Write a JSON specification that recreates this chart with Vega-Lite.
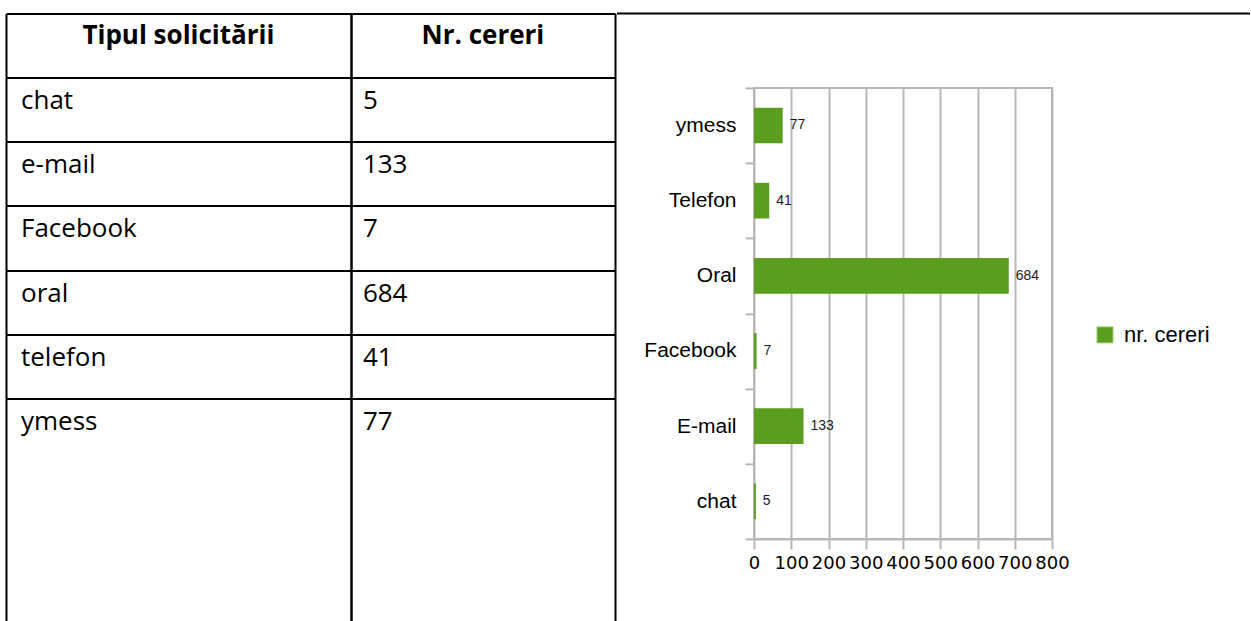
{
  "$schema": "https://vega.github.io/schema/vega-lite/v6.json",
  "padding": {"left": 6, "top": 11.6, "right": 0, "bottom": 0},
  "background": "white",
  "config": {"view": {"stroke": null}},
  "datasets": {
    "tabel": [
      {"tip": "chat", "nr": 5},
      {"tip": "e-mail", "nr": 133},
      {"tip": "Facebook", "nr": 7},
      {"tip": "oral", "nr": 684},
      {"tip": "telefon", "nr": 41},
      {"tip": "ymess", "nr": 77}
    ],
    "grafic": [
      {"categorie": "chat", "cereri": 5},
      {"categorie": "E-mail", "cereri": 133},
      {"categorie": "Facebook", "cereri": 7},
      {"categorie": "Oral", "cereri": 684},
      {"categorie": "Telefon", "cereri": 41},
      {"categorie": "ymess", "cereri": 77}
    ]
  },
  "spacing": 0,
  "resolve": {"scale": {"color": "independent"}, "legend": {"color": "independent"}},
  "hconcat": [
    {
      "width": 609,
      "height": 608,
      "resolve": {"scale": {"x": "independent"}},
      "layer": [
        {
          "layer": [
            {
              "data": {"values": [{"titlu": "Tipul solicitării"}]},
              "mark": {"type": "text", "font": "Open Sans", "fontSize": 26, "fontWeight": "bold", "align": "center", "baseline": "alphabetic", "color": "#000000"},
              "encoding": {
                "x": {"field": "titlu", "type": "nominal", "bandPosition": 0.5,
                  "scale": {"type": "band", "domain": ["Tipul solicitării"], "paddingInner": 0, "paddingOuter": 0.383, "align": 0},
                  "axis": {"grid": true, "gridColor": "#000000", "gridWidth": 2, "tickBand": "extent", "labels": false, "ticks": false, "domain": false, "title": null, "offset": 0}},
                "y": {"datum": "antet", "type": "nominal", "bandPosition": 0.48,
                  "scale": {"type": "band", "domain": ["antet", "chat", "e-mail", "Facebook", "oral", "telefon", "ymess", "rest"], "paddingInner": 0, "paddingOuter": 0.728, "align": 0},
                  "axis": {"values": ["antet", "chat", "e-mail", "Facebook", "oral", "telefon", "ymess"], "grid": true, "gridColor": "#000000", "gridWidth": 2, "bandPosition": 0, "labels": false, "ticks": false, "domain": false, "title": null}},
                "text": {"field": "titlu"}
              }
            },
            {
              "data": {"name": "tabel"},
              "mark": {"type": "text", "font": "Open Sans", "fontSize": 26, "align": "left", "baseline": "alphabetic", "dx": 15, "color": "#000000"},
              "encoding": {
                "x": {"datum": "Tipul solicitării", "type": "nominal", "bandPosition": 0,
                  "scale": {"type": "band", "domain": ["Tipul solicitării"], "paddingInner": 0, "paddingOuter": 0.383, "align": 0},
                  "axis": {"grid": true, "gridColor": "#000000", "gridWidth": 2, "tickBand": "extent", "labels": false, "ticks": false, "domain": false, "title": null, "offset": 0}},
                "y": {"field": "tip", "type": "nominal", "bandPosition": 0.48,
                  "scale": {"type": "band", "domain": ["antet", "chat", "e-mail", "Facebook", "oral", "telefon", "ymess", "rest"], "paddingInner": 0, "paddingOuter": 0.728, "align": 0},
                  "axis": {"values": ["antet", "chat", "e-mail", "Facebook", "oral", "telefon", "ymess"], "grid": true, "gridColor": "#000000", "gridWidth": 2, "bandPosition": 0, "labels": false, "ticks": false, "domain": false, "title": null}},
                "text": {"field": "tip"}
              }
            }
          ]
        },
        {
          "layer": [
            {
              "data": {"values": [{"titlu": "Nr. cereri"}]},
              "mark": {"type": "text", "font": "Open Sans", "fontSize": 26, "fontWeight": "bold", "align": "center", "baseline": "alphabetic", "color": "#000000"},
              "encoding": {
                "x": {"field": "titlu", "type": "nominal", "bandPosition": 0.5,
                  "scale": {"type": "band", "domain": ["Nr. cereri"], "paddingInner": 0, "paddingOuter": 0.653, "align": 1},
                  "axis": {"grid": true, "gridColor": "#000000", "gridWidth": 2, "tickBand": "extent", "labels": false, "ticks": false, "domain": false, "title": null, "offset": 0}},
                "y": {"datum": "antet", "type": "nominal", "bandPosition": 0.48,
                  "scale": {"type": "band", "domain": ["antet", "chat", "e-mail", "Facebook", "oral", "telefon", "ymess", "rest"], "paddingInner": 0, "paddingOuter": 0.728, "align": 0},
                  "axis": {"values": ["antet", "chat", "e-mail", "Facebook", "oral", "telefon", "ymess"], "grid": true, "gridColor": "#000000", "gridWidth": 2, "bandPosition": 0, "labels": false, "ticks": false, "domain": false, "title": null}},
                "text": {"field": "titlu"}
              }
            },
            {
              "data": {"name": "tabel"},
              "mark": {"type": "text", "font": "Open Sans", "fontSize": 26, "align": "left", "baseline": "alphabetic", "dx": 12, "color": "#000000"},
              "encoding": {
                "x": {"datum": "Nr. cereri", "type": "nominal", "bandPosition": 0,
                  "scale": {"type": "band", "domain": ["Nr. cereri"], "paddingInner": 0, "paddingOuter": 0.653, "align": 1},
                  "axis": {"grid": true, "gridColor": "#000000", "gridWidth": 2, "tickBand": "extent", "labels": false, "ticks": false, "domain": false, "title": null, "offset": 0}},
                "y": {"field": "tip", "type": "nominal", "bandPosition": 0.48,
                  "scale": {"type": "band", "domain": ["antet", "chat", "e-mail", "Facebook", "oral", "telefon", "ymess", "rest"], "paddingInner": 0, "paddingOuter": 0.728, "align": 0},
                  "axis": {"values": ["antet", "chat", "e-mail", "Facebook", "oral", "telefon", "ymess"], "grid": true, "gridColor": "#000000", "gridWidth": 2, "bandPosition": 0, "labels": false, "ticks": false, "domain": false, "title": null}},
                "text": {"field": "nr", "type": "quantitative"}
              }
            }
          ]
        }
      ]
    },
    {
      "spacing": 60.3,
      "resolve": {"scale": {"color": "independent"}, "legend": {"color": "independent"}},
      "vconcat": [
        {
          "width": 496,
          "height": 1,
          "data": {"values": [{"celula": "grafic"}]},
          "mark": {"type": "point", "opacity": 0, "size": 0},
          "encoding": {
            "y": {"field": "celula", "type": "nominal",
              "scale": {"type": "band", "paddingInner": 0, "paddingOuter": 0},
              "axis": {"title": null, "labels": false, "domain": false, "grid": false, "bandPosition": 0, "translate": 0,
                "tickSize": 137, "tickColor": "#000000", "tickWidth": 2, "minExtent": 137}}
          },
          "view": {"stroke": "#000000", "strokeWidth": 2, "strokeDash": [496, 3000]}
        },
        {
          "width": 298,
          "height": 451,
          "data": {"name": "grafic"},
          "view": {"stroke": "#b7b7b7", "strokeWidth": 2},
          "encoding": {
            "y": {"field": "categorie", "type": "nominal",
              "scale": {"domain": ["ymess", "Telefon", "Oral", "Facebook", "E-mail", "chat"], "paddingInner": 0, "paddingOuter": 0},
              "axis": {"title": null, "tickBand": "extent", "tickSize": 9, "tickColor": "#b7b7b7", "tickWidth": 2, "domain": false, "grid": false,
                "labelFont": "Liberation Sans", "labelFontSize": 21, "labelColor": "#000000", "labelPadding": 9, "minExtent": 137}},
            "x": {"field": "cereri", "type": "quantitative",
              "scale": {"domain": [0, 800], "nice": false},
              "axis": {"title": null, "tickCount": 8, "grid": true, "gridColor": "#b7b7b7", "gridWidth": 2,
                "tickSize": 10, "tickColor": "#b7b7b7", "tickWidth": 2, "domainColor": "#b7b7b7", "domainWidth": 2,
                "labelFont": "DejaVu Sans", "labelFontSize": 18, "labelColor": "#000000", "labelPadding": 6, "labelFlush": false, "labelOverlap": false}}
          },
          "layer": [
            {
              "mark": {"type": "bar", "height": {"band": 0.475}},
              "encoding": {
                "color": {"datum": "nr. cereri", "type": "nominal",
                  "scale": {"range": ["#5a9d1f"]},
                  "legend": {"title": null, "orient": "none", "legendX": 340, "legendY": 236, "padding": 0,
                    "symbolType": "square", "symbolSize": 256, "symbolStrokeColor": "#9ccb70", "symbolStrokeWidth": 1,
                    "labelFont": "Liberation Sans", "labelFontSize": 22, "labelColor": "#000000", "labelOffset": 8}}
              }
            },
            {
              "mark": {"type": "text", "align": "left", "baseline": "middle", "dx": 7, "font": "Liberation Sans", "fontSize": 14, "color": "#1a1a1a"},
              "encoding": {"text": {"field": "cereri", "type": "quantitative"}}
            }
          ]
        }
      ]
    }
  ]
}
